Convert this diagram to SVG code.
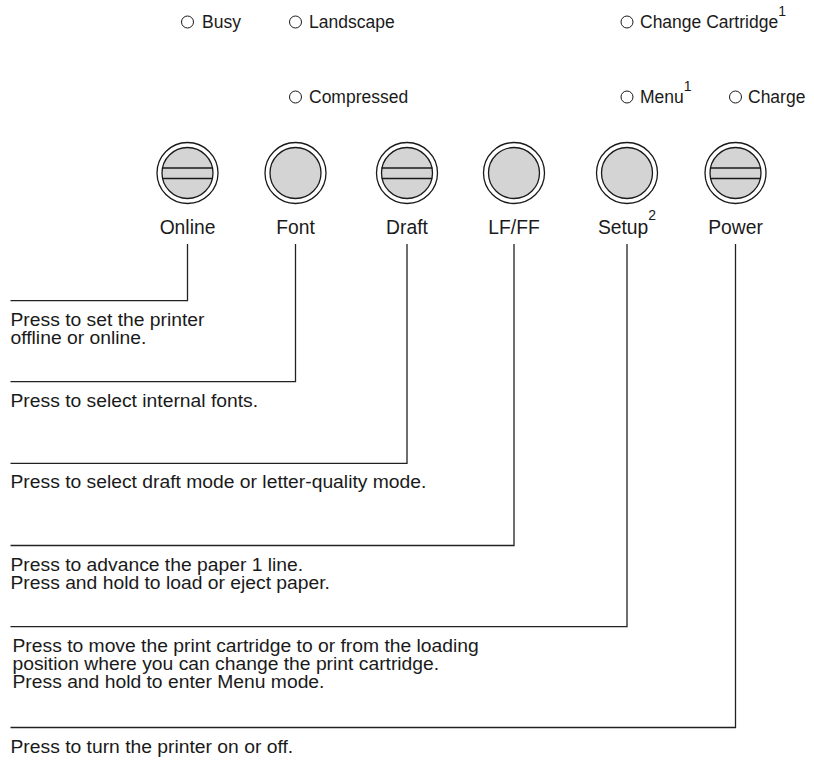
<svg xmlns="http://www.w3.org/2000/svg" width="814" height="771" viewBox="0 0 814 771">
<style>
text{font-family:"Liberation Sans",Arial,sans-serif;fill:#1a1a1a}
.ind{font-size:17.5px}
.sup{font-size:14px}
.lbl{font-size:19.3px;text-anchor:middle}
.desc{font-size:17.5px}
.led{fill:none;stroke:#1a1a1a;stroke-width:1}
.outer{fill:#fff;stroke:#1a1a1a;stroke-width:1.3}
.inner{fill:#d4d4d4;stroke:#1a1a1a;stroke-width:1.3}
.bar{stroke:#1a1a1a;stroke-width:1.3;fill:none}
.con{fill:none;stroke:#222;stroke-width:1.3}
</style>
<rect width="814" height="771" fill="#fff"/>
<g id="indicators">
<g id="led-busy"><circle class="led" cx="187.5" cy="22" r="6"/><text class="ind" x="202" y="28.3">Busy</text></g>
<g id="led-landscape"><circle class="led" cx="295.5" cy="22" r="6"/><text class="ind" x="309" y="28.3">Landscape</text></g>
<g id="led-change"><circle class="led" cx="627" cy="22" r="6"/><text class="ind" x="640" y="28.3">Change Cartridge<tspan class="sup" dy="-12">1</tspan></text></g>
<g id="led-compressed"><circle class="led" cx="295.5" cy="97" r="6"/><text class="ind" x="309" y="103.3">Compressed</text></g>
<g id="led-menu"><circle class="led" cx="627" cy="97" r="6"/><text class="ind" x="640" y="103.3">Menu<tspan class="sup" dy="-12">1</tspan></text></g>
<g id="led-charge"><circle class="led" cx="735.5" cy="97" r="6"/><text class="ind" x="748" y="103.3">Charge</text></g>
</g>
<g id="btn-online"><circle class="outer" cx="187.5" cy="173" r="30.5"/><circle class="inner" cx="187.5" cy="173" r="25.5"/><path class="bar" d="M162.2,168H212.8M162.2,178.5H212.8"/><text class="lbl" x="187.5" y="234">Online</text></g>
<g id="btn-font"><circle class="outer" cx="295.5" cy="173" r="30.5"/><circle class="inner" cx="295.5" cy="173" r="25.5"/><text class="lbl" x="295.5" y="234">Font</text></g>
<g id="btn-draft"><circle class="outer" cx="407" cy="173" r="30.5"/><circle class="inner" cx="407" cy="173" r="25.5"/><path class="bar" d="M381.7,168H432.3M381.7,178.5H432.3"/><text class="lbl" x="407" y="234">Draft</text></g>
<g id="btn-lfff"><circle class="outer" cx="514" cy="173" r="30.5"/><circle class="inner" cx="514" cy="173" r="25.5"/><text class="lbl" x="514" y="234">LF/FF</text></g>
<g id="btn-setup"><circle class="outer" cx="627" cy="173" r="30.5"/><circle class="inner" cx="627" cy="173" r="25.5"/><text class="lbl" x="627" y="234">Setup<tspan class="sup" dy="-14">2</tspan></text></g>
<g id="btn-power"><circle class="outer" cx="735.5" cy="173" r="30.5"/><circle class="inner" cx="735.5" cy="173" r="25.5"/><path class="bar" d="M710.2,168H760.8M710.2,178.5H760.8"/><text class="lbl" x="735.5" y="234">Power</text></g>
<g id="connectors">
<path class="con" d="M187.5,244V300.7H10.5"/>
<path class="con" d="M295.5,244V381.7H10.5"/>
<path class="con" d="M407,244V463.3H10.5"/>
<path class="con" d="M514,244V545.5H10.5"/>
<path class="con" d="M627,244V626.7H10.5"/>
<path class="con" d="M735.5,244V727.5H10.5"/>
</g>
<g id="desc-online" transform="scale(1.103,1)"><text class="desc" x="9.52" y="326">Press to set the printer</text><text class="desc" x="9.52" y="344">offline or online.</text></g>
<g id="desc-font" transform="scale(1.103,1)"><text class="desc" x="9.52" y="406.8">Press to select internal fonts.</text></g>
<g id="desc-draft" transform="scale(1.103,1)"><text class="desc" x="9.52" y="488.4">Press to select draft mode or letter-quality mode.</text></g>
<g id="desc-lfff" transform="scale(1.103,1)"><text class="desc" x="9.52" y="570.8">Press to advance the paper 1 line.</text><text class="desc" x="9.52" y="588.8">Press and hold to load or eject paper.</text></g>
<g id="desc-setup" transform="scale(1.103,1)"><text class="desc" x="11.33" y="652">Press to move the print cartridge to or from the loading</text><text class="desc" x="11.33" y="670">position where you can change the print cartridge.</text><text class="desc" x="11.33" y="688">Press and hold to enter Menu mode.</text></g>
<g id="desc-power" transform="scale(1.103,1)"><text class="desc" x="9.52" y="752.8">Press to turn the printer on or off.</text></g>
</svg>
